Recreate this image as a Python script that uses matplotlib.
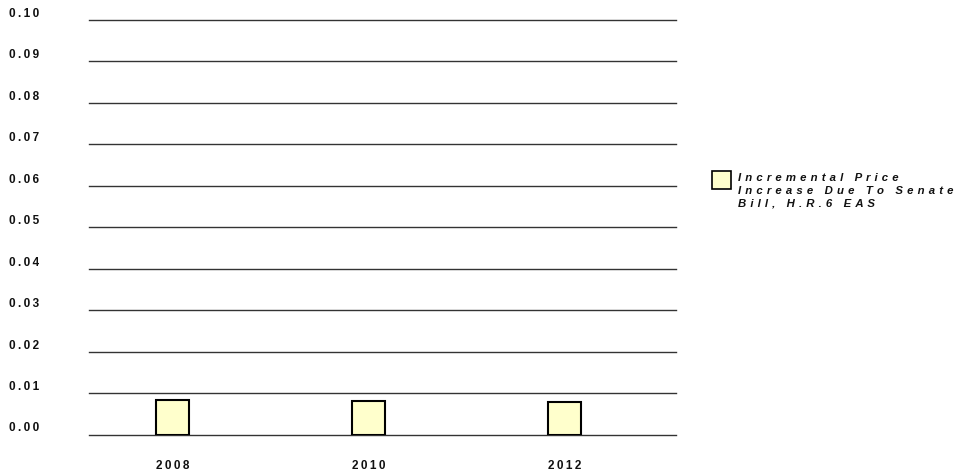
import matplotlib
matplotlib.use("Agg")
import matplotlib.pyplot as plt
import matplotlib.transforms as mtransforms
from matplotlib.patches import Rectangle

years = ["2008", "2010", "2012"]
values = [0.0084, 0.0081, 0.0079]
yticks = [0.00, 0.01, 0.02, 0.03, 0.04, 0.05, 0.06, 0.07, 0.08, 0.09, 0.10]
ytick_labels = ["0.00", "0.01", "0.02", "0.03", "0.04", "0.05", "0.06", "0.07", "0.08", "0.09", "0.10"]
series_lines = ["Incremental Price", "Increase Due To Senate", "Bill, H.R.6 EAS"]

def spaced(s, sep="\u2009"):
    return sep.join(s)

plt.rcParams['font.family'] = ['Liberation Sans', 'DejaVu Sans']

fig = plt.figure(figsize=(9.6, 4.77), dpi=100)
ax = fig.add_axes([89/960, 1-435.5/477, (676-89)/960, (435.5-21)/477])

x = list(range(len(years)))
bar_color = "#FFFFCC"
bars = ax.bar(x, values, width=0.168, color=bar_color, edgecolor="black", linewidth=1.5, zorder=3)

for yv in yticks:
    ax.axhline(yv, color="#333333", linewidth=1.0, zorder=1, clip_on=False)

ax.set_ylim(0, 0.10)
ax.set_xlim(-0.425, 2.566)
for s in ax.spines.values():
    s.set_visible(False)
ax.set_xticks([])
ax.set_yticks([])

fs = 8.5
trans = mtransforms.blended_transform_factory(fig.transFigure, ax.transData)
off = mtransforms.ScaledTranslation(0, 7/100, fig.dpi_scale_trans)
for yv, lab in zip(yticks, ytick_labels):
    ax.text(9/960, yv, spaced(lab), transform=trans + off, ha="left", va="center",
            fontsize=fs, fontweight="bold", color="#111111")

transx = mtransforms.blended_transform_factory(ax.transData, fig.transFigure)
for xi, lab in zip(x, years):
    ax.text(xi, 1-466/477, spaced(lab), transform=transx, ha="center", va="center",
            fontsize=fs, fontweight="bold", color="#111111")

# legend
fig.patches.append(Rectangle((712/960, 1-190/477), 19/960, 18/477, transform=fig.transFigure,
                             facecolor=bar_color, edgecolor="black", linewidth=1.2, figure=fig))
for i, line in enumerate(series_lines):
    fig.text(738/960, 1-(178 + 13*i)/477, spaced(line, " \u200a"), ha="left", va="center",
             fontsize=8.2, fontweight="bold", fontstyle="italic", color="#111111")

fig.savefig("out.png", dpi=100)
